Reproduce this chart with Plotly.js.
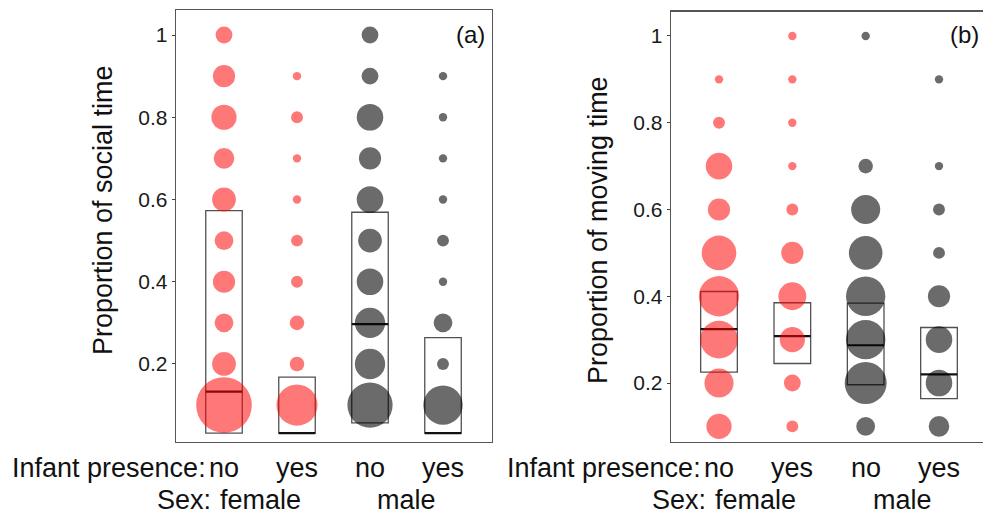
<!DOCTYPE html>
<html>
<head>
<meta charset="utf-8">
<script src="https://cdn.plot.ly/plotly-3.0.1.min.js"></script>
<style>html,body{margin:0;padding:0;background:#fff;}#chart{width:983px;height:522px;}</style>
</head>
<body>
<div id="chart"></div>
<script>
// ---- data ----
const proportionLevels = [0.1, 0.2, 0.3, 0.4, 0.5, 0.6, 0.7, 0.8, 0.9, 1.0];
const groupLabels = ['no', 'yes', 'no', 'yes'];        // infant presence
const sexLabels = ['female', 'male'];

// (a) social time: number of observations at each proportion level
const socialFemaleNo  = [44, 8, 5, 7, 5, 8, 6, 9, 7, 4];
const socialFemaleYes = [24, 3, 3, 2, 2, 1, 1, 2, 1, 0];
const socialMaleNo    = [29, 13, 13, 10, 8, 10, 7, 10, 4, 4];
const socialMaleYes   = [22, 2, 5, 1, 2, 1, 1, 1, 1, 0];
const socialQ1  = [0.032, 0.032, 0.057, 0.032];
const socialMed = [0.133, 0.032, 0.297, 0.032];
const socialQ3  = [0.573, 0.168, 0.569, 0.264];

// (b) moving time
const movingFemaleNo  = [9, 12, 20, 23, 17, 7, 10, 2, 1, 0];
const movingFemaleYes = [2, 4, 9, 11, 7, 2, 1, 1, 1, 1];
const movingMaleNo    = [5, 25, 22, 22, 16, 12, 3, 0, 0, 1];
const movingMaleYes   = [6, 10, 10, 7, 2, 2, 1, 0, 1, 0];
const movingQ1  = [0.225, 0.245, 0.196, 0.164];
const movingMed = [0.324, 0.308, 0.287, 0.220];
const movingQ3  = [0.411, 0.385, 0.384, 0.328];

// ---- styles ----
const FEMALE = 'rgba(255,0,0,0.53)';
const MALE = 'rgba(0,0,0,0.58)';
const FONT = 'Liberation Sans, Arial, Helvetica, sans-serif';
const SIZEREF = 2 / (8.4 * 8.4);

function dotTrace(counts, xpos, color, xa, ya) {
  const xs = [], ys = [], ss = [];
  counts.forEach((n, i) => { if (n > 0) { xs.push(xpos); ys.push(proportionLevels[i]); ss.push(n); } });
  return {
    type: 'scatter', mode: 'markers', x: xs, y: ys, xaxis: xa, yaxis: ya,
    marker: { size: ss, sizemode: 'area', sizeref: SIZEREF, color: color, opacity: 1, line: { width: 0 } },
    hoverinfo: 'x+y', showlegend: false
  };
}

const traces = [
  dotTrace(socialFemaleNo, 1, FEMALE, 'x', 'y'),
  dotTrace(socialFemaleYes, 2, FEMALE, 'x', 'y'),
  dotTrace(socialMaleNo, 3, MALE, 'x', 'y'),
  dotTrace(socialMaleYes, 4, MALE, 'x', 'y'),
  dotTrace(movingFemaleNo, 1, FEMALE, 'x2', 'y2'),
  dotTrace(movingFemaleYes, 2, FEMALE, 'x2', 'y2'),
  dotTrace(movingMaleNo, 3, MALE, 'x2', 'y2'),
  dotTrace(movingMaleYes, 4, MALE, 'x2', 'y2')
];

const shapes = [];
function addBoxes(q1, med, q3, xr, yr) {
  for (let i = 0; i < q1.length; i++) {
    const xc = i + 1;
    shapes.push({ type: 'rect', xref: xr, yref: yr, x0: xc - 0.25, x1: xc + 0.25, y0: q1[i], y1: q3[i],
      line: { color: 'rgba(50,50,50,0.85)', width: 1.3 }, fillcolor: 'rgba(0,0,0,0)', layer: 'below' });
    shapes.push({ type: 'line', xref: xr, yref: yr, x0: xc - 0.25, x1: xc + 0.25, y0: med[i], y1: med[i],
      line: { color: '#111', width: 2.2 }, layer: 'below' });
  }
}
addBoxes(socialQ1, socialMed, socialQ3, 'x', 'y');
addBoxes(movingQ1, movingMed, movingQ3, 'x2', 'y2');

const annotations = [];
function txt(o) { annotations.push(Object.assign({ showarrow: false, font: { family: FONT, size: 27, color: '#111' } }, o)); }

const W = 983, H = 522;
const py = y => (H - y) / H;
const px = x => x / W;

// axis titles
txt({ text: 'Proportion of social time', xref: 'paper', yref: 'paper', x: px(103), y: py(210), textangle: -90, xanchor: 'center', yanchor: 'middle', font: { family: FONT, size: 27, color: '#111' } });
txt({ text: 'Proportion of moving time', xref: 'paper', yref: 'paper', x: px(598), y: py(230), textangle: -90, xanchor: 'center', yanchor: 'middle', font: { family: FONT, size: 27, color: '#111' } });
// panel tags
txt({ text: '(a)', xref: 'paper', yref: 'paper', x: px(487), y: py(34), xanchor: 'right', yanchor: 'middle', font: { family: FONT, size: 24, color: '#111' } });
txt({ text: '(b)', xref: 'paper', yref: 'paper', x: px(981), y: py(34), xanchor: 'right', yanchor: 'middle', font: { family: FONT, size: 24, color: '#111' } });

// bottom labels for each panel
['x', 'x2'].forEach(xr => {
  groupLabels.forEach((g, i) => txt({ text: g, xref: xr, yref: 'paper', x: i + 1, y: py(468), xanchor: 'center', yanchor: 'middle' }));
  txt({ text: 'Infant presence:', xref: xr, yref: 'paper', x: 0.775, y: py(468), xanchor: 'right', yanchor: 'middle' });
  sexLabels.forEach((s, i) => txt({ text: s, xref: xr, yref: 'paper', x: 1.5 + 2 * i, y: py(500), xanchor: 'center', yanchor: 'middle' }));
  txt({ text: 'Sex:', xref: xr, yref: 'paper', x: 0.85, y: py(500), xanchor: 'right', yanchor: 'middle' });
});

const yTicks = { tickvals: [0.2, 0.4, 0.6, 0.8, 1], ticktext: ['0.2', '0.4', '0.6', '0.8', '1'] };
const axisLine = { showline: true, linecolor: '#555', linewidth: 1.3, showgrid: false, zeroline: false };

const layout = {
  width: W, height: H, margin: { l: 0, r: 0, t: 0, b: 0 },
  paper_bgcolor: '#fff', plot_bgcolor: '#fff', showlegend: false,
  font: { family: FONT, color: '#111' },
  xaxis: Object.assign({ domain: [px(176), px(492)], range: [0.3425, 4.671], mirror: true, showticklabels: false, ticks: '', anchor: 'y' }, axisLine),
  yaxis: Object.assign({ domain: [py(442), py(10)], range: [0.0103, 1.0608], mirror: true, ticks: 'outside', ticklen: 3, tickcolor: '#444', tickwidth: 1,
    tickfont: { family: FONT, size: 21, color: '#1a1a1a' }, anchor: 'x' }, axisLine, yTicks),
  xaxis2: Object.assign({ domain: [px(671), 1], range: [0.3454, 4.6], mirror: true, showticklabels: false, ticks: '', anchor: 'y2' }, axisLine),
  yaxis2: Object.assign({ domain: [py(442), py(11.7)], range: [0.064, 1.056], mirror: false, ticks: 'outside', ticklen: 3, tickcolor: '#444', tickwidth: 1,
    tickfont: { family: FONT, size: 21, color: '#1a1a1a' }, anchor: 'x2' }, axisLine, yTicks),
  shapes: shapes,
  annotations: annotations
};

Plotly.newPlot('chart', traces, layout, { staticPlot: true, displayModeBar: false });
</script>
</body>
</html>
